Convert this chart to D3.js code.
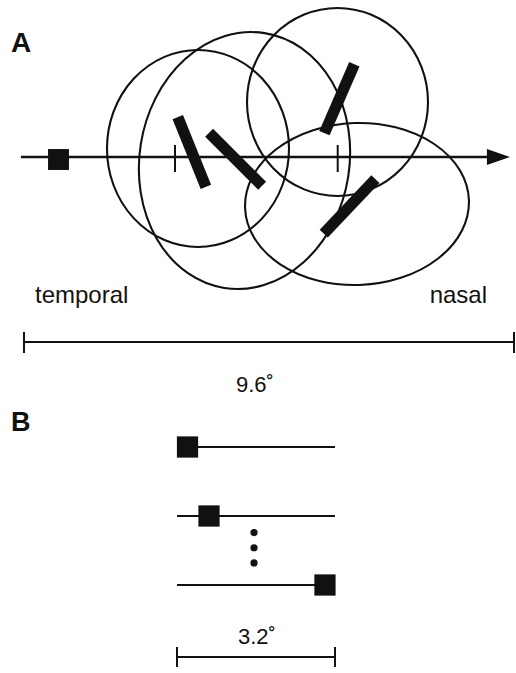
<!DOCTYPE html>
<html>
<head>
<meta charset="utf-8">
<script src="https://cdn.jsdelivr.net/npm/d3@7"></script>
<style>
  html, body { margin: 0; padding: 0; background: #fff; }
  svg { display: block; }
  text { font-family: "Liberation Sans", Arial, Helvetica, sans-serif; fill: #111; }
</style>
</head>
<body>
<svg id="chart" width="516" height="673"></svg>
<script>
// ---------- data (visual degrees) ----------
// Panel A: receptive-field outlines [cx, cy, rx, ry, rotation]
const rfCx  = [3.409, 4.320, 6.142, 6.524];
const rfCy  = [0.167, -0.069, 1.078, -0.921];
const rfRx  = [1.783, 2.057, 1.773, 2.194];
const rfRy  = [1.930, 2.527, 1.842, 1.587];
const rfRot = [0, 9, 0, -2];
// Panel A: oriented bar stimuli (centre, orientation from vertical)
const barCx    = [3.288, 4.146, 6.179, 6.379];
const barCy    = [0.098, -0.045, 1.142, -0.968];
const barAngle = [-22, -45, 23.5, 43.5];
const barLength = 1.47;
const barWidth  = 0.22;
// fixation point
const fixX = 0.676, fixY = -0.049, fixSize = 0.41;
// tick marks on the horizontal meridian
const meridianTicks = [2.958, 6.146];
const meridianExtent = [-0.06, 9.52];
// scale bar
const spanA = 9.6;
const labelA = "9.6˚";
const sideLabels = ["temporal", "nasal"];

// Panel B: probe square positions along a 3.2° line
const spanB = 3.2;
const labelB = "3.2˚";
const probeRows = [0, 1, 2];
const probePos  = [0.213, 0.648, 2.997];
const ellipsisRows = [1.24, 1.46, 1.68];
const ellipsisPos = 1.56;
const probeSize = 0.43;

// ---------- scales ----------
const svg = d3.select("#chart");
const pxPerDegA = (514 - 24) / spanA;
const xA = d3.scaleLinear().domain([0, spanA]).range([24, 514]);
const yA = d3.scaleLinear().domain([-3, 3]).range([157 + 3 * pxPerDegA, 157 - 3 * pxPerDegA]);
const lenA = d => xA(d) - xA(0);

const xB = d3.scaleLinear().domain([0, spanB]).range([177, 335]);
const lenB = d => xB(d) - xB(0);
const rowB = d3.scaleLinear().domain([0, 2]).range([447, 585]);

// ---------- Panel A ----------
svg.append("text").attr("x", 11).attr("y", 52)
  .attr("font-size", 28).attr("font-weight", "bold").text("A");

// meridian with arrow
const axisY = yA(0);
svg.append("line")
  .attr("x1", xA(meridianExtent[0])).attr("x2", xA(meridianExtent[1]) - 20)
  .attr("y1", axisY).attr("y2", axisY)
  .attr("stroke", "#111").attr("stroke-width", 2.4);
const tip = xA(meridianExtent[1]);
svg.append("path")
  .attr("d", d3.line()([[tip, axisY], [tip - 23, axisY - 8], [tip - 23, axisY + 8]]) + "Z")
  .attr("fill", "#111");

// ticks
svg.selectAll("line.mtick").data(meridianTicks).join("line")
  .attr("class", "mtick")
  .attr("x1", d => xA(d)).attr("x2", d => xA(d))
  .attr("y1", axisY - 12).attr("y2", axisY + 15)
  .attr("stroke", "#111").attr("stroke-width", 2);

// fixation square
svg.append("rect")
  .attr("x", xA(fixX) - lenA(fixSize) / 2).attr("y", yA(fixY) - lenA(fixSize) / 2)
  .attr("width", lenA(fixSize)).attr("height", lenA(fixSize))
  .attr("fill", "#111");

// receptive fields
const rfs = rfCx.map((cx, i) => ({cx, cy: rfCy[i], rx: rfRx[i], ry: rfRy[i], rot: rfRot[i]}));
svg.selectAll("ellipse.rf").data(rfs).join("ellipse")
  .attr("class", "rf")
  .attr("cx", 0).attr("cy", 0)
  .attr("rx", d => lenA(d.rx)).attr("ry", d => lenA(d.ry))
  .attr("transform", d => `translate(${xA(d.cx)},${yA(d.cy)}) rotate(${d.rot})`)
  .attr("fill", "none").attr("stroke", "#111").attr("stroke-width", 2.1);

// bars
const bars = barCx.map((cx, i) => ({cx, cy: barCy[i], a: barAngle[i]}));
svg.selectAll("rect.bar").data(bars).join("rect")
  .attr("class", "bar")
  .attr("x", -lenA(barWidth) / 2).attr("y", -lenA(barLength) / 2)
  .attr("width", lenA(barWidth)).attr("height", lenA(barLength))
  .attr("transform", d => `translate(${xA(d.cx)},${yA(d.cy)}) rotate(${d.a})`)
  .attr("fill", "#111");

// side labels
svg.append("text").attr("x", 35).attr("y", 303).attr("font-size", 24).text(sideLabels[0]);
svg.append("text").attr("x", 487).attr("y", 303).attr("font-size", 24)
  .attr("text-anchor", "end").text(sideLabels[1]);

// scale bar A
const sbY = 342;
svg.append("line").attr("x1", xA(0)).attr("x2", xA(spanA)).attr("y1", sbY).attr("y2", sbY)
  .attr("stroke", "#111").attr("stroke-width", 2);
svg.selectAll("line.sbA").data([0, spanA]).join("line").attr("class", "sbA")
  .attr("x1", d => xA(d)).attr("x2", d => xA(d)).attr("y1", sbY - 10).attr("y2", sbY + 11)
  .attr("stroke", "#111").attr("stroke-width", 2);
svg.append("text").attr("x", 236).attr("y", 392).attr("font-size", 22).text(labelA);

// ---------- Panel B ----------
svg.append("text").attr("x", 11).attr("y", 431)
  .attr("font-size", 27).attr("font-weight", "bold").text("B");

svg.selectAll("line.probe").data(probeRows).join("line").attr("class", "probe")
  .attr("x1", xB(0)).attr("x2", xB(spanB))
  .attr("y1", d => rowB(d)).attr("y2", d => rowB(d))
  .attr("stroke", "#111").attr("stroke-width", 2);
svg.selectAll("rect.probe").data(probeRows).join("rect").attr("class", "probe")
  .attr("x", (d, i) => xB(probePos[i]) - lenB(probeSize) / 2)
  .attr("y", d => rowB(d) - lenB(probeSize) / 2)
  .attr("width", lenB(probeSize)).attr("height", lenB(probeSize))
  .attr("fill", "#111");
svg.selectAll("circle.dots").data(ellipsisRows).join("circle").attr("class", "dots")
  .attr("cx", xB(ellipsisPos)).attr("cy", d => rowB(d)).attr("r", 3.6)
  .attr("fill", "#111");

const sbBY = 657;
svg.append("line").attr("x1", xB(0)).attr("x2", xB(spanB)).attr("y1", sbBY).attr("y2", sbBY)
  .attr("stroke", "#111").attr("stroke-width", 2);
svg.selectAll("line.sbB").data([0, spanB]).join("line").attr("class", "sbB")
  .attr("x1", d => xB(d)).attr("x2", d => xB(d)).attr("y1", sbBY - 10).attr("y2", sbBY + 10)
  .attr("stroke", "#111").attr("stroke-width", 2);
svg.append("text").attr("x", 238).attr("y", 644).attr("font-size", 22).text(labelB);
</script>
</body>
</html>
